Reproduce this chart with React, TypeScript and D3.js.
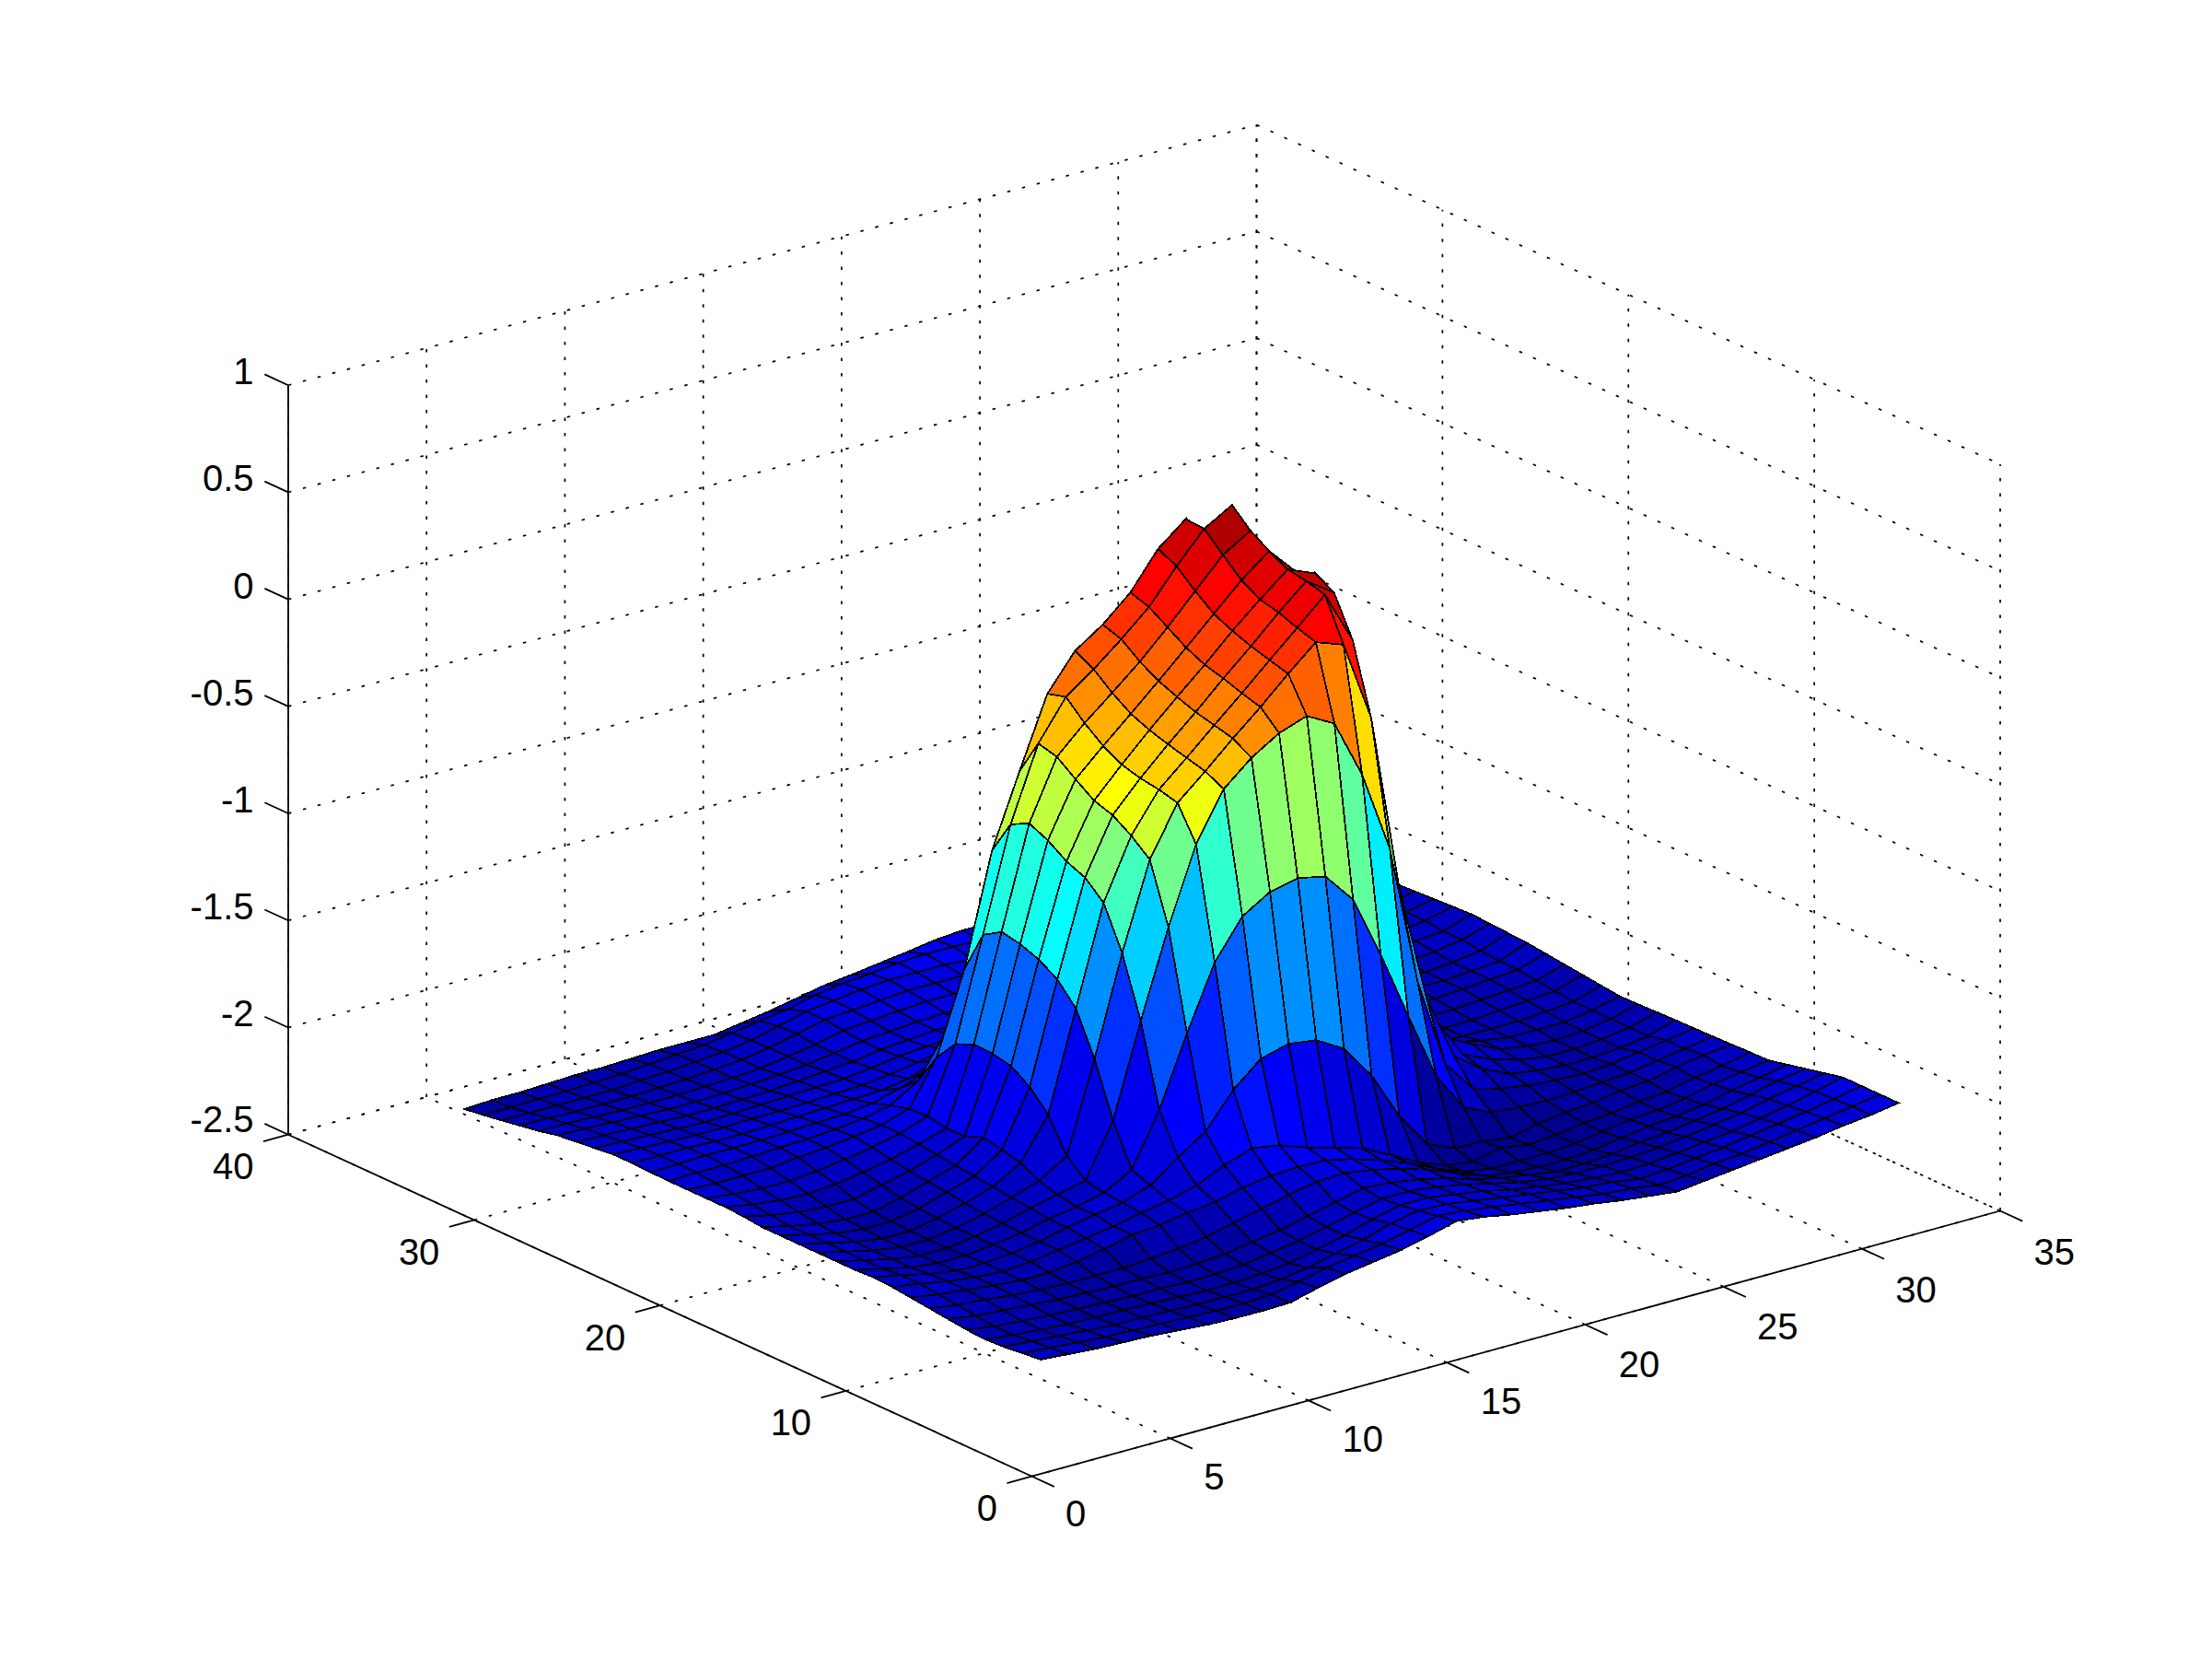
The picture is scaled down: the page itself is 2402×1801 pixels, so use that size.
import React from "react";
import * as d3 from "d3";

const xTicks = [0, 5, 10, 15, 20, 25, 30, 35];
const yTicks = [0, 10, 20, 30, 40];
const zTicks = [-2.5, -2, -1.5, -1, -0.5, 0, 0.5, 1];
const zTickLabels = ["-2.5", "-2", "-1.5", "-1", "-0.5", "0", "0.5", "1"];

const zRow01 = [-2.03,-2.04,-2.05,-2.055,-2.06,-2.07,-2.08,-2.085,-2.086,-2.083,-2.05,-2.02,-2.0,-1.98,-1.95,-1.915,-1.93,-1.955,-1.975,-1.995,-2.01,-2.03,-2.045,-2.06,-2.045,-2.03,-2.015,-2.0,-1.985,-1.965,-1.95,-1.93];
const zRow02 = [-2.04,-2.05,-2.06,-2.07,-2.075,-2.08,-2.085,-2.09,-2.09,-2.085,-2.06,-2.03,-2.01,-1.99,-1.96,-1.93,-1.94,-1.96,-1.98,-2.0,-2.02,-2.04,-2.05,-2.07,-2.06,-2.04,-2.03,-2.01,-1.99,-1.97,-1.95,-1.93];
const zRow03 = [-2.05,-2.06,-2.07,-2.08,-2.09,-2.09,-2.095,-2.1,-2.1,-2.1,-2.09,-2.07,-2.04,-2.01,-1.97,-1.945,-1.95,-1.97,-1.99,-2.01,-2.03,-2.05,-2.06,-2.08,-2.07,-2.055,-2.04,-2.02,-2.0,-1.98,-1.955,-1.93];
const zRow04 = [-2.055,-2.07,-2.08,-2.09,-2.095,-2.095,-2.1,-2.105,-2.11,-2.11,-2.1,-2.09,-2.06,-2.03,-1.99,-1.96,-1.96,-1.98,-2.0,-2.03,-2.05,-2.07,-2.08,-2.09,-2.085,-2.07,-2.055,-2.04,-2.015,-1.99,-1.96,-1.93];
const zRow05 = [-2.05,-2.07,-2.08,-2.09,-2.095,-2.1,-2.105,-2.105,-2.11,-2.11,-2.1,-2.08,-2.06,-2.03,-2.0,-1.97,-1.97,-1.985,-2.01,-2.04,-2.07,-2.09,-2.1,-2.1,-2.095,-2.085,-2.07,-2.05,-2.03,-2.0,-1.975,-1.95];
const zRow06 = [-2.04,-2.06,-2.07,-2.08,-2.09,-2.095,-2.1,-2.1,-2.105,-2.1,-2.09,-2.07,-2.05,-2.02,-1.99,-1.96,-1.97,-1.99,-2.02,-2.06,-2.09,-2.11,-2.13,-2.13,-2.12,-2.1,-2.09,-2.07,-2.05,-2.02,-1.99,-1.97];
const zRow07 = [-2.03,-2.05,-2.06,-2.075,-2.085,-2.09,-2.09,-2.09,-2.08,-2.07,-2.05,-2.02,-1.99,-1.96,-1.934,-1.93,-1.95,-1.98,-2.02,-2.07,-2.12,-2.14,-2.15,-2.15,-2.14,-2.12,-2.1,-2.09,-2.07,-2.04,-2.015,-1.99];
const zRow08 = [-2.02,-2.04,-2.055,-2.07,-2.08,-2.08,-2.065,-2.04,-2.01,-2.0,-1.978,-1.963,-1.931,-1.912,-1.905,-1.91,-1.94,-1.98,-2.03,-2.09,-2.14,-2.16,-2.16,-2.16,-2.15,-2.13,-2.11,-2.1,-2.08,-2.05,-2.03,-2.01];
const zRow09 = [-2.01,-2.03,-2.055,-2.07,-2.08,-2.07,-2.05,-2.03,-2.01,-1.983,-1.96,-1.925,-1.867,-1.823,-1.844,-1.89,-1.926,-1.965,-2.03,-2.1,-2.15,-2.17,-2.14,-2.16,-2.15,-2.13,-2.12,-2.1,-2.09,-2.06,-2.04,-2.012];
const zRow10 = [-2.005,-2.03,-2.06,-2.08,-2.08,-2.07,-2.05,-2.02,-1.995,-1.975,-1.929,-1.835,-1.749,-1.59,-1.48,-1.446,-1.464,-1.54,-1.7,-1.925,-2.09,-2.146,-2.15,-2.167,-2.14,-2.12,-2.11,-2.09,-2.08,-2.05,-2.03,-2.015];
const zRow11 = [-2.01,-2.04,-2.07,-2.085,-2.085,-2.07,-2.05,-2.02,-2.0,-1.969,-1.897,-1.653,-1.33,-1.035,-0.855,-0.776,-0.747,-0.775,-0.918,-1.21,-1.534,-1.849,-2.03,-2.09,-2.1,-2.105,-2.1,-2.09,-2.08,-2.06,-2.04,-2.018];
const zRow12 = [-2.01,-2.04,-2.07,-2.09,-2.09,-2.07,-2.045,-2.01,-1.982,-1.952,-1.707,-1.277,-0.875,-0.523,-0.3,-0.19,-0.11,-0.065,-0.136,-0.41,-0.79,-1.444,-1.867,-2.017,-2.053,-2.075,-2.085,-2.09,-2.08,-2.06,-2.04,-2.02];
const zRow13 = [-2.01,-2.04,-2.07,-2.09,-2.09,-2.07,-2.04,-2.0,-1.957,-1.877,-1.46,-1.0,-0.599,-0.369,-0.257,-0.139,-0.028,0.092,0.204,0.157,-0.22,-1.04,-1.6,-1.907,-2.0,-2.06,-2.08,-2.09,-2.09,-2.08,-2.06,-2.022];
const zRow14 = [-2.01,-2.04,-2.07,-2.09,-2.09,-2.065,-2.03,-1.99,-1.914,-1.723,-1.263,-0.805,-0.527,-0.347,-0.234,-0.117,-0.003,0.116,0.231,0.351,0.104,-0.9,-1.7,-1.78,-1.975,-2.03,-2.07,-2.09,-2.09,-2.08,-2.06,-2.025];
const zRow15 = [-2.01,-2.04,-2.07,-2.085,-2.085,-2.06,-2.02,-1.98,-1.892,-1.634,-1.167,-0.727,-0.471,-0.334,-0.211,-0.096,0.026,0.141,0.263,0.374,0.286,-1.2,-1.8,-1.85,-1.935,-2.0,-2.06,-2.08,-2.09,-2.08,-2.06,-2.028];
const zRow16 = [-2.01,-2.04,-2.065,-2.08,-2.08,-2.05,-2.01,-1.97,-1.875,-1.576,-1.114,-0.691,-0.443,-0.31,-0.184,-0.065,0.05,0.173,0.284,0.389,0.335,-1.5,-1.9,-1.95,-1.98,-2.03,-2.06,-2.08,-2.08,-2.08,-2.06,-2.03];
const zRow17 = [-2.0,-2.03,-2.05,-2.06,-2.06,-2.03,-2.0,-1.96,-1.908,-1.559,-1.082,-0.633,-0.383,-0.263,-0.148,-0.03,0.09,0.212,0.334,0.435,0.3,-1.6,-1.95,-2.03,-2.05,-2.07,-2.08,-2.08,-2.08,-2.07,-2.06,-2.02];
const zRow18 = [-1.995,-2.02,-2.035,-2.04,-2.03,-2.01,-1.985,-1.95,-1.912,-1.556,-1.065,-0.594,-0.318,-0.196,-0.09,0.02,0.145,0.279,0.412,0.49,0.1,-1.7,-1.97,-2.04,-2.06,-2.07,-2.08,-2.08,-2.07,-2.06,-2.05,-2.01];
const zRow19 = [-1.995,-2.01,-2.02,-2.02,-2.01,-1.99,-1.97,-1.94,-1.895,-1.593,-1.119,-0.638,-0.296,-0.114,-0.02,0.085,0.2,0.355,0.495,0.57,-0.2,-1.75,-1.97,-2.04,-2.05,-2.06,-2.07,-2.07,-2.06,-2.05,-2.04,-2.0];
const zRow20 = [-1.995,-2.0,-2.0,-2.0,-1.985,-1.975,-1.96,-1.94,-1.9,-1.696,-1.32,-0.8,-0.463,-0.139,0.026,0.113,0.228,0.396,0.5,0.39,-0.5,-1.8,-1.97,-2.03,-2.04,-2.05,-2.06,-2.06,-2.05,-2.04,-2.03,-1.99];
const zRow21 = [-1.995,-1.99,-1.99,-1.985,-1.98,-1.975,-1.965,-1.95,-1.924,-1.845,-1.65,-1.385,-1.3,-1.0,-0.8,-0.7,-0.6,-0.5,-0.3,-0.3,-1.0,-1.85,-1.97,-2.02,-2.03,-2.04,-2.05,-2.05,-2.05,-2.04,-2.03,-1.98];
const zRow22 = [-1.993,-1.99,-1.985,-1.985,-1.985,-1.98,-1.975,-1.97,-1.955,-1.92,-1.876,-1.64,-1.6,-1.5,-1.4,-1.3,-1.3,-1.3,-1.3,-1.4,-1.6,-1.9,-1.97,-2.01,-2.02,-2.03,-2.04,-2.05,-2.05,-2.04,-2.02,-1.975];
const zRow23 = [-1.99,-1.99,-1.99,-1.995,-1.995,-1.99,-1.985,-1.98,-1.975,-1.97,-1.95,-1.9,-1.85,-1.8,-1.8,-1.8,-1.8,-1.8,-1.8,-1.85,-1.9,-1.94,-1.97,-2.0,-2.01,-2.02,-2.03,-2.04,-2.04,-2.03,-2.01,-1.97];
const zRow24 = [-1.99,-1.995,-2.0,-2.005,-2.005,-2.0,-2.0,-1.995,-1.99,-1.985,-1.97,-1.95,-1.92,-1.9,-1.9,-1.9,-1.9,-1.9,-1.9,-1.92,-1.94,-1.96,-1.97,-1.99,-2.0,-2.01,-2.02,-2.03,-2.03,-2.02,-2.01,-1.965];
const zRow25 = [-2.0,-2.005,-2.01,-2.015,-2.02,-2.015,-2.01,-2.005,-2.0,-1.995,-1.98,-1.96,-1.95,-1.94,-1.94,-1.94,-1.94,-1.94,-1.94,-1.95,-1.96,-1.97,-1.975,-1.98,-1.99,-2.0,-2.01,-2.02,-2.02,-2.02,-2.0,-1.97];
const zRow26 = [-2.01,-2.015,-2.02,-2.025,-2.03,-2.03,-2.025,-2.02,-2.01,-2.0,-1.99,-1.97,-1.96,-1.95,-1.95,-1.95,-1.95,-1.95,-1.95,-1.96,-1.97,-1.975,-1.98,-1.98,-1.99,-2.0,-2.01,-2.02,-2.02,-2.02,-2.0,-1.975];
const zRow27 = [-2.02,-2.025,-2.03,-2.035,-2.04,-2.04,-2.035,-2.03,-2.02,-2.01,-1.99,-1.97,-1.96,-1.95,-1.945,-1.94,-1.94,-1.94,-1.945,-1.95,-1.96,-1.97,-1.975,-1.98,-1.99,-2.0,-2.01,-2.02,-2.02,-2.02,-2.0,-1.98];
const zRow28 = [-2.04,-2.04,-2.045,-2.05,-2.05,-2.05,-2.045,-2.04,-2.03,-2.01,-1.99,-1.96,-1.95,-1.94,-1.93,-1.93,-1.93,-1.93,-1.94,-1.95,-1.96,-1.97,-1.975,-1.98,-1.98,-1.985,-1.985,-1.985,-1.985,-1.985,-1.985,-1.985];
const zRow29 = [-2.055,-2.055,-2.06,-2.06,-2.06,-2.055,-2.05,-2.04,-2.03,-2.01,-1.98,-1.95,-1.94,-1.93,-1.92,-1.92,-1.92,-1.925,-1.93,-1.94,-1.95,-1.96,-1.97,-1.98,-1.985,-1.99,-1.99,-1.99,-1.99,-1.99,-1.99,-1.99];
const zRow30 = [-2.07,-2.07,-2.07,-2.07,-2.07,-2.06,-2.055,-2.045,-2.035,-2.015,-1.985,-1.95,-1.935,-1.92,-1.91,-1.91,-1.91,-1.92,-1.925,-1.935,-1.95,-1.96,-1.97,-1.98,-1.99,-1.995,-2.0,-2.0,-2.0,-2.0,-2.0,-2.0];
const zRow31 = [-2.085,-2.085,-2.08,-2.08,-2.075,-2.07,-2.06,-2.05,-2.04,-2.02,-2.0,-1.98,-1.95,-1.93,-1.92,-1.905,-1.9,-1.9,-1.905,-1.92,-1.94,-1.95,-1.97,-1.98,-1.99,-2.0,-2.0,-2.01,-2.01,-2.01,-2.01,-2.01];
const zRow32 = [-2.097,-2.09,-2.09,-2.085,-2.08,-2.08,-2.075,-2.07,-2.07,-2.07,-2.05,-2.03,-2.005,-1.98,-1.965,-1.947,-1.93,-1.91,-1.9,-1.9,-1.91,-1.93,-1.95,-1.96,-1.97,-1.98,-1.99,-2.0,-2.0,-2.01,-2.01,-2.02];
const surfaceZ = [zRow01,zRow02,zRow03,zRow04,zRow05,zRow06,zRow07,zRow08,zRow09,zRow10,zRow11,zRow12,zRow13,zRow14,zRow15,zRow16,zRow17,zRow18,zRow19,zRow20,zRow21,zRow22,zRow23,zRow24,zRow25,zRow26,zRow27,zRow28,zRow29,zRow30,zRow31,zRow32];

// Oblique projection of the MATLAB box: each data axis contributes a screen offset.
const ORIGIN = { x: 1120.5, y: 1602.7 };
const xToSx = d3.scaleLinear().domain([0, 35]).range([0, 1051.5]);
const xToSy = d3.scaleLinear().domain([0, 35]).range([0, -288.2]);
const yToSx = d3.scaleLinear().domain([0, 40]).range([0, -807.5]);
const yToSy = d3.scaleLinear().domain([0, 40]).range([0, -371]);
const zToSy = d3.scaleLinear().domain([-2.5, 1]).range([0, -813.5]);

const project = (x: number, y: number, z: number): [number, number] => [
  ORIGIN.x + xToSx(x) + yToSx(y),
  ORIGIN.y + xToSy(x) + yToSy(y) + zToSy(z),
];
// The reference's back walls sit a few pixels lower than a pure oblique box.
const projectWall = (x: number, y: number, z: number): [number, number] => {
  const [px, py] = project(x, y, z);
  return [px, py + (2.5 * x * y) / (35 * 40) + (3 * x * (z + 2.5)) / (35 * 3.5)];
};

function jet64(): string[] {
  const n = 16;
  const u: number[] = [];
  for (let k = 1; k <= n; k++) u.push(k / n);
  for (let k = 1; k < n; k++) u.push(1);
  for (let k = n; k >= 1; k--) u.push(k / n);
  const r = new Array(64).fill(0), g = new Array(64).fill(0), b = new Array(64).fill(0);
  u.forEach((v, k) => {
    const gi = 8 + k; // zero-based
    if (gi < 64) g[gi] = v;
    if (gi + n < 64) r[gi + n] = v;
    if (gi - n >= 0) b[gi - n] = v;
  });
  return r.map((_, k) => d3.rgb(r[k] * 255, g[k] * 255, b[k] * 255).formatHex());
}

const allZ = surfaceZ.flat();
const colour = d3.scaleQuantize<string>().domain([d3.min(allZ)!, d3.max(allZ)!]).range(jet64());

const FONT = "'Liberation Sans', Arial, sans-serif";
const FS = 40;
const DASH = "3.5 13";

type P3 = [number, number, number];
function seg(a: P3, b: P3, f = project) {
  const p = f(...a), q = f(...b);
  return { x1: p[0], y1: p[1], x2: q[0], y2: q[1] };
}

export default function App() {
  const zLo = -2.5, zHi = 1, xMax = 35, yMax = 40;
  const grid: { x1: number; y1: number; x2: number; y2: number }[] = [];
  xTicks.forEach((x) => {
    grid.push(seg([x, 0, zLo], [x, yMax, zLo], projectWall));
    grid.push(seg([x, yMax, zLo], [x, yMax, zHi], projectWall));
  });
  yTicks.forEach((y) => {
    grid.push(seg([0, y, zLo], [xMax, y, zLo], projectWall));
    grid.push(seg([xMax, y, zLo], [xMax, y, zHi], projectWall));
  });
  zTicks.forEach((z) => {
    grid.push(seg([0, yMax, z], [xMax, yMax, z], projectWall));
    grid.push(seg([xMax, yMax, z], [xMax, 0, z], projectWall));
  });

  const cells: { pts: string; fill: string; key: string }[] = [];
  const rows = surfaceZ.length, cols = surfaceZ[0].length;
  for (let j = rows - 2; j >= 0; j--) {
    for (let i = cols - 2; i >= 0; i--) {
      const corners: P3[] = [
        [i + 1, j + 1, surfaceZ[j][i]],
        [i + 2, j + 1, surfaceZ[j][i + 1]],
        [i + 2, j + 2, surfaceZ[j + 1][i + 1]],
        [i + 1, j + 2, surfaceZ[j + 1][i]],
      ];
      cells.push({
        key: `${i}-${j}`,
        pts: corners.map((c) => project(...c).map((v) => v.toFixed(2)).join(",")).join(" "),
        fill: colour(surfaceZ[j][i]),
      });
    }
  }

  const axisLines = [
    seg([0, yMax, zLo], [0, yMax, zHi]),
    seg([0, 0, zLo], [xMax, 0, zLo]),
    seg([0, 0, zLo], [0, yMax, zLo]),
    ...xTicks.map((x) => seg([x, 0, zLo], [x, -1.2, zLo])),
    ...yTicks.map((y) => seg([0, y, zLo], [-0.9, y, zLo])),
    ...zTicks.map((z) => seg([0, yMax, z], [0, yMax + 1.27, z])),
  ];

  return (
    <svg width={2402} height={1801} style={{ position: "fixed", left: 0, top: 0, display: "block", background: "#fff" }}>
      <g stroke="#000" strokeWidth={1.7} strokeDasharray={DASH} fill="none">
        {grid.map((l, k) => <line key={k} {...l} />)}
      </g>
      <g stroke="#000" strokeWidth={1.8} strokeLinejoin="miter">
        {cells.map((c) => <polygon key={c.key} points={c.pts} fill={c.fill} shapeRendering="crispEdges" />)}
      </g>
      <g stroke="#000" strokeWidth={1.8} fill="none">
        {axisLines.map((l, k) => <line key={k} {...l} />)}
      </g>
      <g fontFamily={FONT} fontSize={FS} fill="#000">
        {xTicks.map((x) => {
          const [px, py] = project(x, 0, zLo);
          return <text key={x} x={px + 36.5} y={py + 40 + 14.5 + (4 * x) / 35}>{x}</text>;
        })}
        {yTicks.map((y) => {
          const [px, py] = project(0, y, zLo);
          return <text key={y} x={px - 37.5} y={py + 34 + 14.5} textAnchor="end">{y}</text>;
        })}
        {zTicks.map((z, k) => {
          const [px, py] = project(0, yMax, z);
          return <text key={z} x={px - 37.5} y={py - (z === zLo ? 17 : 15.5) + 14.5} textAnchor="end">{zTickLabels[k]}</text>;
        })}
      </g>
    </svg>
  );
}
